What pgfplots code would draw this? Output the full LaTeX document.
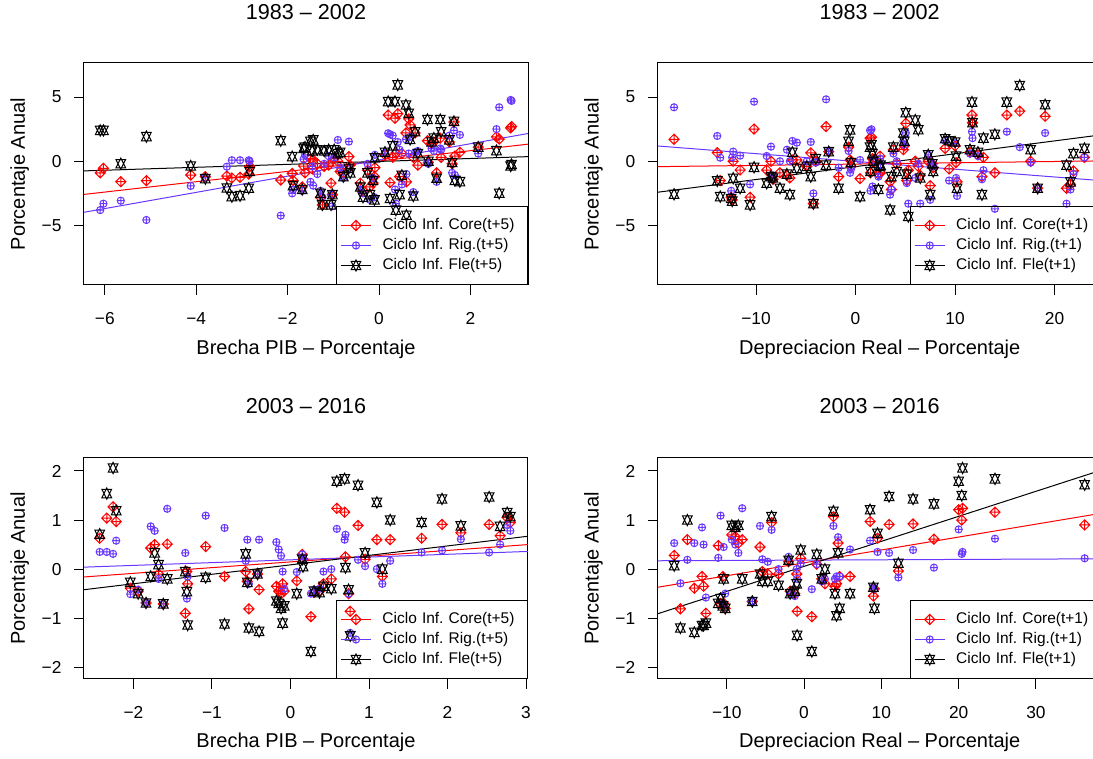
\documentclass[border=0pt]{standalone}
\usepackage{fontspec}
\setmainfont{Liberation Sans}
\usepackage{pgfplots}
\usepackage{pgfplotstable}
\pgfplotsset{compat=1.18}

\definecolor{rigblue}{RGB}{105,55,255}

% diamond with a plus through its corners
\pgfdeclareplotmark{dplus}{%
  \pgfpathmoveto{\pgfqpoint{1.4142\pgfplotmarksize}{0pt}}%
  \pgfpathlineto{\pgfqpoint{0pt}{1.4142\pgfplotmarksize}}%
  \pgfpathlineto{\pgfqpoint{-1.4142\pgfplotmarksize}{0pt}}%
  \pgfpathlineto{\pgfqpoint{0pt}{-1.4142\pgfplotmarksize}}%
  \pgfpathclose
  \pgfpathmoveto{\pgfqpoint{1.4142\pgfplotmarksize}{0pt}}%
  \pgfpathlineto{\pgfqpoint{-1.4142\pgfplotmarksize}{0pt}}%
  \pgfpathmoveto{\pgfqpoint{0pt}{1.4142\pgfplotmarksize}}%
  \pgfpathlineto{\pgfqpoint{0pt}{-1.4142\pgfplotmarksize}}%
  \pgfusepathqstroke}
% two overlapping triangles, one up and one down
\pgfdeclareplotmark{sdavid}{%
  \pgfpathmoveto{\pgfqpoint{0pt}{-1.555\pgfplotmarksize}}%
  \pgfpathlineto{\pgfqpoint{1.347\pgfplotmarksize}{1.166\pgfplotmarksize}}%
  \pgfpathlineto{\pgfqpoint{-1.347\pgfplotmarksize}{1.166\pgfplotmarksize}}%
  \pgfpathclose
  \pgfpathmoveto{\pgfqpoint{0pt}{1.555\pgfplotmarksize}}%
  \pgfpathlineto{\pgfqpoint{1.347\pgfplotmarksize}{-1.166\pgfplotmarksize}}%
  \pgfpathlineto{\pgfqpoint{-1.347\pgfplotmarksize}{-1.166\pgfplotmarksize}}%
  \pgfpathclose
  \pgfusepathqstroke}

\pgfplotsset{
  rpanel/.style={
    scale only axis, width=333pt,
    axis line style={line width=0.75pt},
    xtick pos=bottom, ytick pos=left,
    tick align=outside, major tick length=7.5pt,
    every tick/.append style={line width=0.75pt, black},
    xticklabel style={font=\fontsize{13}{15}\selectfont, anchor=base, yshift=-22pt},
    yticklabel style={font=\fontsize{13}{15}\selectfont, anchor=east, inner sep=0pt, xshift=-9.2pt},
    label style={font=\fontsize{15}{18}\selectfont},
    xlabel style={anchor=base},
    ylabel style={anchor=base},
    title style={font=\fontsize{16.2}{19}\selectfont, anchor=base},
    legend cell align=left,
    legend style={at={(1,0)}, anchor=south east, draw=black, fill=none,
      line width=0.75pt, inner xsep=3pt, inner ysep=8.65pt,
      font=\fontsize{11.6}{14}\selectfont\frenchspacing, row sep=3.8pt,
      nodes={inner xsep=0pt, inner ysep=0pt, text height=8.6pt, text depth=2.6pt,
        anchor=west, text width=105.75pt, align=left},
      /tikz/every odd column/.append style={column sep=8.25pt}},
  },
  rlegend/.style={legend image code/.code={%
      \draw[sharp plot, mark repeat=2, mark phase=2]
        plot coordinates {(0pt,0pt) (11.25pt,0pt) (22.5pt,0pt)};}},
  core/.style={rlegend, only marks, red, mark=dplus, mark size=2.7pt, line width=0.75pt},
  rig/.style={rlegend, only marks, rigblue, mark=oplus, mark size=2.7pt, line width=0.75pt},
  fle/.style={rlegend, only marks, black, mark=sdavid, mark size=2.7pt, line width=0.75pt},
  fit/.style={line width=0.75pt, no marks, forget plot},
}

% columns: gap or depreciation, core, rigid, flexible inflation cycle
\pgfplotstableread{
x c r f
-6.10 -0.90 -3.80 2.40
-6.03 -0.55 -3.30 2.40
-5.65 -1.59 -3.07 -0.19
-5.09 -1.51 -4.57 1.92
-4.12 -1.07 -1.92 -0.37
-3.80 -1.20 -1.30 -1.35
-3.33 -1.15 -0.42 -2.08
-3.22 -1.30 0.08 -2.75
-3.04 -1.25 0.08 -2.68
-2.85 -1.00 0.08 -2.10
-2.83 -0.40 0.00 -0.80
-2.15 -1.46 -4.23 1.60
-1.90 -0.95 -2.50 0.36
-1.88 -1.50 -2.20 -1.90
-1.68 -2.00 -2.30 -2.20
-1.65 -0.37 0.16 1.00
-1.62 -0.90 0.50 1.10
-1.50 0.20 -1.60 1.55
-1.46 -0.60 -0.40 0.80
-1.44 0.10 -1.90 1.66
-1.35 -0.20 -1.00 0.90
-1.28 -2.80 -2.30 -2.50
-1.24 -3.40 -2.80 -3.40
-1.20 -0.40 -0.20 0.80
-1.10 -0.30 0.40 0.90
-1.05 -1.70 -2.60 -3.40
-1.02 -2.60 -3.50 -2.60
-0.98 0.20 0.30 0.90
-0.90 0.00 1.66 0.60
-0.85 -0.80 -0.50 0.70
-0.78 -0.90 -1.30 -1.20
-0.66 0.36 1.53 -0.55
-0.63 -0.30 -0.60 -0.90
-0.41 -1.70 -2.20 -2.00
-0.35 -2.30 -2.50 -2.80
-0.25 -0.70 -0.20 -0.90
-0.20 -2.00 -3.00 -2.60
-0.13 -1.70 -1.30 -1.50
-0.10 -1.20 -2.80 -3.00
-0.09 -0.50 0.50 0.26
0.13 0.50 0.64 0.70
0.20 3.60 2.18 4.64
0.24 -1.66 2.10 -2.90
0.30 0.30 2.00 1.20
0.35 3.35 -2.20 4.64
0.37 0.64 -3.30 -3.80
0.41 3.70 1.50 5.94
0.45 -1.20 0.90 -2.60
0.50 0.60 -1.80 -1.10
0.59 2.20 1.70 4.38
0.60 -1.60 -1.00 -4.20
0.65 3.30 0.60 3.74
0.68 2.83 1.90 1.70
0.75 0.30 -2.40 -2.70
0.79 2.20 0.70 2.30
0.85 -0.30 0.80 0.60
1.06 1.60 -0.10 3.25
1.08 -0.10 -0.20 0.00
1.15 1.40 1.00 1.50
1.20 1.50 0.80 1.80
1.26 -0.90 -1.60 -1.32
1.34 1.80 1.00 3.25
1.36 0.30 0.90 2.30
1.54 1.50 2.00 1.66
1.60 -0.20 -0.90 -0.10
1.64 3.06 2.40 3.10
1.66 0.40 -1.07 -1.50
1.77 0.70 2.05 -1.59
2.17 1.10 0.60 1.10
2.57 1.90 2.50 0.83
2.63 1.73 4.20 -2.49
2.88 2.60 4.77 -0.37
2.90 2.70 4.70 -0.25
}\gapA

\pgfplotstableread{
x c r f
-18.24 1.71 4.20 -2.57
-13.90 0.67 1.97 -1.53
-13.60 -1.50 0.28 -2.75
-12.50 -2.80 -2.30 -2.90
-12.40 -3.00 0.30 -3.10
-12.30 0.00 0.75 -1.32
-11.60 -0.68 0.44 -2.10
-10.60 -2.80 -1.80 -3.40
-10.20 2.51 4.64 -0.47
-8.93 -0.68 0.41 -1.71
-8.50 0.00 1.14 -1.20
-8.30 -1.40 -1.10 -1.30
-7.60 -0.90 0.00 -2.10
-6.90 -1.10 0.90 -1.00
-6.60 -1.30 0.00 -2.60
-6.35 0.10 1.58 0.70
-5.90 0.10 1.45 -0.55
-4.90 -0.40 0.00 -0.40
-4.50 0.65 1.50 -1.20
-4.24 -3.30 -2.50 -3.30
-4.00 0.00 -0.10 0.20
-2.96 2.70 4.82 -0.30
-2.70 0.75 0.80 0.75
-1.70 -1.20 -0.50 -2.10
-0.70 1.10 0.80 1.55
-0.55 0.10 -0.90 2.44
-0.45 -0.40 -0.60 -0.10
0.45 -1.35 0.10 -2.75
1.46 1.80 2.40 1.10
1.50 -0.90 -2.30 -0.80
1.60 1.87 2.49 1.28
1.70 0.20 -1.96 0.60
1.80 -0.10 0.10 0.00
2.30 -1.00 -1.20 -2.20
2.46 0.40 0.20 -0.40
2.50 -0.90 -0.50 -0.30
3.47 -1.59 -2.60 -3.79
3.60 -2.20 -2.20 -1.20
3.80 0.90 0.60 1.10
4.14 -0.20 0.00 -0.80
4.80 0.90 1.56 2.20
4.90 1.20 1.30 1.56
5.05 2.95 2.20 3.78
5.15 -1.50 -1.70 -1.00
5.30 -0.70 -3.30 -4.30
6.00 0.00 -1.30 3.20
6.30 -0.40 -0.20 2.45
6.50 -1.10 -3.30 -1.30
7.30 0.00 0.50 0.50
7.50 -1.90 -3.00 -2.60
7.70 -0.20 -0.20 -0.20
7.80 -0.50 -0.40 -0.80
9.00 1.00 1.60 1.75
9.40 -0.60 -1.50 1.60
10.00 1.20 1.40 1.50
10.10 -0.10 -1.30 0.40
10.20 -1.60 -2.70 -2.10
11.50 0.70 0.60 0.90
11.70 3.60 2.30 4.60
11.75 3.00 1.80 3.00
12.30 0.50 0.40 0.70
12.70 -1.20 -1.40 -2.60
12.85 0.30 -0.70 1.80
14.00 -0.90 -3.70 2.10
15.20 3.60 2.30 4.60
16.50 3.90 1.10 5.90
17.60 0.00 -0.10 0.90
18.30 -2.10 -2.10 -2.10
19.05 3.50 2.20 4.40
21.20 -2.10 -3.30 -0.30
21.60 -1.80 -2.20 -1.60
21.90 -0.75 -1.00 0.60
23.00 0.30 0.30 1.00
}\depA

\pgfplotstableread{
x c r f
-2.43 0.63 0.35 0.71
-2.34 1.04 0.35 1.54
-2.26 1.27 0.31 2.06
-2.22 0.97 0.58 1.19
-2.04 -0.39 -0.51 -0.27
-1.94 -0.45 -0.42 -0.50
-1.84 -0.69 -0.69 -0.69
-1.78 0.43 0.87 -0.15
-1.73 0.50 0.78 0.33
-1.68 -0.10 -0.20 0.09
-1.62 -0.71 -0.71 -0.71
-1.57 0.51 1.23 -0.20
-1.34 -0.90 0.33 -0.05
-1.32 -0.05 -0.60 -0.46
-1.31 -0.30 -0.15 -1.14
-1.08 0.46 1.09 -0.17
-0.84 -0.15 0.84 -1.12
-0.57 -0.05 0.17 0.31
-0.55 -0.25 0.60 -0.27
-0.53 -0.81 -0.30 -1.20
-0.42 -0.10 -0.10 -0.10
-0.40 -0.42 0.60 -1.27
-0.18 -0.35 0.55 -0.65
-0.15 -0.45 0.40 -0.70
-0.12 -0.50 0.27 -0.80
-0.10 -0.30 -0.05 -1.10
-0.08 -0.45 -0.40 -0.75
0.08 -0.24 -0.06 -0.50
0.15 0.30 0.30 0.20
0.16 0.20 0.20 0.05
0.26 -0.97 -0.50 -1.68
0.30 -0.48 -0.42 -0.45
0.37 -0.45 -0.40 -0.48
0.42 -0.30 -0.05 -0.35
0.52 -0.20 0.00 -0.40
0.59 1.24 0.82 1.79
0.69 1.16 0.60 1.84
0.70 0.25 0.70 0.03
0.74 -0.50 -0.50 -0.42
0.76 -0.86 -1.30 -1.36
0.86 0.89 0.19 1.71
0.95 0.20 0.06 0.33
1.10 0.60 0.00 1.36
1.17 -0.15 -0.30 0.00
1.27 0.60 0.17 1.00
1.67 0.63 0.34 0.95
1.93 0.91 0.38 1.43
2.17 0.74 0.61 0.88
2.53 0.91 0.34 1.47
2.67 0.68 0.50 0.87
2.76 1.05 0.90 1.15
2.80 0.95 0.78 1.07
}\gapB

\pgfplotstableread{
x c r f
-16.80 0.28 0.53 0.07
-16.00 -0.81 -0.29 -1.20
-15.10 0.60 0.19 1.00
-14.20 -0.39 0.53 -1.29
-13.20 -0.15 0.85 -1.15
-13.00 -0.35 0.50 -1.15
-12.70 -0.90 -0.58 -1.10
-11.10 0.48 0.23 -0.70
-10.80 -0.70 1.09 -0.60
-10.50 -0.15 -0.70 -0.75
-10.40 -0.70 0.45 -0.20
-10.20 -0.80 -0.50 -0.80
-9.35 0.70 0.60 0.89
-8.90 0.66 0.50 0.85
-8.50 0.53 0.33 0.89
-8.00 0.60 1.24 -0.20
-6.70 -0.66 -0.66 -0.66
-5.70 0.45 0.88 -0.10
-5.40 -0.05 0.20 -0.25
-4.70 -0.10 0.15 -0.25
-4.20 0.95 0.80 1.07
-3.30 -0.10 0.00 -0.33
-2.00 0.15 0.25 0.18
-1.80 -0.45 -0.50 -0.50
-1.20 -0.50 -0.55 -0.45
-0.95 -0.10 0.00 -0.30
-0.90 -0.86 -0.20 -1.35
-0.43 0.22 0.12 0.39
1.00 -0.97 -0.41 -1.68
1.64 0.10 0.10 0.30
2.30 -0.20 -0.25 -0.20
2.70 -0.30 -0.20 0.00
3.80 1.07 0.88 1.18
4.00 -0.35 -0.20 -0.50
4.20 -0.30 -0.15 -0.95
4.40 0.53 0.65 0.33
4.60 -0.15 -0.15 -0.80
5.95 -0.15 0.40 -0.50
8.54 0.97 0.58 1.21
8.97 -0.55 -0.37 -0.37
9.10 -0.40 -0.40 -0.80
9.50 0.63 0.35 0.73
11.00 0.91 0.33 1.48
12.20 -0.04 -0.17 0.12
14.10 0.92 0.39 1.43
16.80 0.61 0.03 1.33
20.00 1.21 0.81 1.79
20.40 1.00 0.31 1.50
20.50 1.24 0.35 2.06
24.70 1.16 0.62 1.84
36.30 0.90 0.22 1.72
}\depB

\begin{document}
\frenchspacing
\begin{tikzpicture}

% ---- 1983-2002, output gap ----
\begin{axis}[rpanel, at={(63pt,355.5pt)}, anchor=south west, height=166.5pt,
  xmin=-6.455, xmax=3.26, ymin=-9.63, ymax=7.65,
  xtick={-6,-4,-2,0,2}, xticklabels={−6,−4,−2,0,2},
  ytick={-5,0,5}, yticklabels={−5,0,5},
  title={1983 – 2002}, title style={at={(axis description cs:0.5,1.162)}},
  xlabel={Brecha PIB – Porcentaje}, xlabel style={at={(axis description cs:0.5,-0.311)}},
  ylabel={Porcentaje Anual}, ylabel style={at={(axis description cs:-0.1329,0.5)}}]
\addplot[core] table[x=x,y=c]{\gapA};
\addplot[rig] table[x=x,y=r]{\gapA};
\addplot[fle] table[x=x,y=f]{\gapA};
\addplot[fit, red] coordinates {(-6.455,-2.58) (3.26,1.33)};
\addplot[fit, rigblue] coordinates {(-6.455,-3.97) (3.26,2.16)};
\addplot[fit, black] coordinates {(-6.455,-0.75) (3.26,0.36)};
\legend{Ciclo Inf.\ Core(t+5), Ciclo Inf.\ Rig.(t+5), Ciclo Inf.\ Fle(t+5)}
\end{axis}

% ---- 1983-2002, real depreciation ----
\begin{axis}[rpanel, at={(493.3pt,355.5pt)}, anchor=south west, height=166.5pt,
  xmin=-19.88, xmax=24.74, ymin=-9.63, ymax=7.65,
  xtick={-10,0,10,20}, xticklabels={−10,0,10,20},
  ytick={-5,0,5}, yticklabels={−5,0,5},
  title={1983 – 2002}, title style={at={(axis description cs:0.5,1.162)}},
  xlabel={Depreciacion Real – Porcentaje}, xlabel style={at={(axis description cs:0.5,-0.311)}},
  ylabel={Porcentaje Anual}, ylabel style={at={(axis description cs:-0.1329,0.5)}}]
\addplot[core] table[x=x,y=c]{\depA};
\addplot[rig] table[x=x,y=r]{\depA};
\addplot[fle] table[x=x,y=f]{\depA};
\addplot[fit, red] coordinates {(-19.88,-0.42) (24.74,0.03)};
\addplot[fit, rigblue] coordinates {(-19.88,1.19) (24.74,-1.51)};
\addplot[fit, black] coordinates {(-19.88,-2.41) (24.74,2.06)};
\legend{Ciclo Inf.\ Core(t+1), Ciclo Inf.\ Rig.(t+1), Ciclo Inf.\ Fle(t+1)}
\end{axis}

% ---- 2003-2016, output gap ----
\begin{axis}[rpanel, at={(63pt,60pt)}, anchor=south west, height=165.75pt,
  xmin=-2.63, xmax=3.025, ymin=-2.24, ymax=2.265,
  xtick={-2,-1,0,1,2,3}, xticklabels={−2,−1,0,1,2,3},
  ytick={-2,-1,0,1,2}, yticklabels={−2,−1,0,1,2},
  title={2003 – 2016}, title style={at={(axis description cs:0.5,1.163)}},
  xlabel={Brecha PIB – Porcentaje}, xlabel style={at={(axis description cs:0.5,-0.312)}},
  ylabel={Porcentaje Anual}, ylabel style={at={(axis description cs:-0.1329,0.5)}}]
\addplot[core] table[x=x,y=c]{\gapB};
\addplot[rig] table[x=x,y=r]{\gapB};
\addplot[fle] table[x=x,y=f]{\gapB};
\addplot[fit, red] coordinates {(-2.63,-0.16) (3.025,0.50)};
\addplot[fit, rigblue] coordinates {(-2.63,0.04) (3.025,0.36)};
\addplot[fit, black] coordinates {(-2.63,-0.42) (3.025,0.67)};
\legend{Ciclo Inf.\ Core(t+5), Ciclo Inf.\ Rig.(t+5), Ciclo Inf.\ Fle(t+5)}
\end{axis}

% ---- 2003-2016, real depreciation ----
\begin{axis}[rpanel, at={(493.3pt,60pt)}, anchor=south west, height=165.75pt,
  xmin=-18.93, xmax=38.51, ymin=-2.24, ymax=2.265,
  xtick={-10,0,10,20,30}, xticklabels={−10,0,10,20,30},
  ytick={-2,-1,0,1,2}, yticklabels={−2,−1,0,1,2},
  title={2003 – 2016}, title style={at={(axis description cs:0.5,1.163)}},
  xlabel={Depreciacion Real – Porcentaje}, xlabel style={at={(axis description cs:0.5,-0.312)}},
  ylabel={Porcentaje Anual}, ylabel style={at={(axis description cs:-0.1329,0.5)}}]
\addplot[core] table[x=x,y=c]{\depB};
\addplot[rig] table[x=x,y=r]{\depB};
\addplot[fle] table[x=x,y=f]{\depB};
\addplot[fit, red] coordinates {(-18.93,-0.37) (38.51,1.14)};
\addplot[fit, rigblue] coordinates {(-18.93,0.17) (38.51,0.21)};
\addplot[fit, black] coordinates {(-18.93,-0.91) (38.51,2.02)};
\legend{Ciclo Inf.\ Core(t+1), Ciclo Inf.\ Rig.(t+1), Ciclo Inf.\ Fle(t+1)}
\end{axis}

\pgfresetboundingbox
\path[use as bounding box] (0,0) rectangle (819.75pt,569.25pt);
\end{tikzpicture}
\end{document}
